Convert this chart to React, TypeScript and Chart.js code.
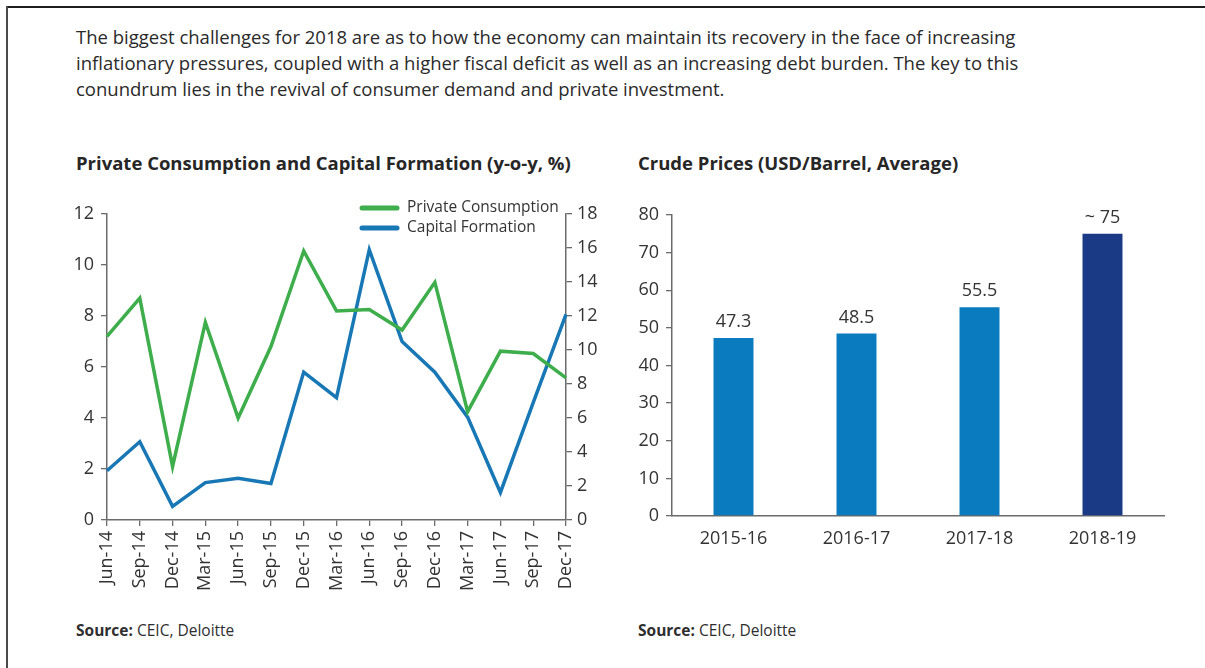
import React, { useEffect, useRef } from "react";
import { Chart, registerables } from "chart.js";

Chart.register(...registerables);

// ---------- data ----------
const quarters = [
  "Jun-14", "Sep-14", "Dec-14", "Mar-15", "Jun-15", "Sep-15", "Dec-15", "Mar-16",
  "Jun-16", "Sep-16", "Dec-16", "Mar-17", "Jun-17", "Sep-17", "Dec-17",
];
const privateConsumption = [7.2, 8.7, 2.1, 7.75, 4.0, 6.8, 10.55, 8.2, 8.25, 7.45, 9.32, 4.25, 6.62, 6.53, 5.57];
const capitalFormation = [2.9, 4.6, 0.8, 2.2, 2.45, 2.15, 8.7, 7.2, 15.9, 10.5, 8.7, 6.05, 1.62, 6.9, 12.1];

const crudeYears = ["2015-16", "2016-17", "2017-18", "2018-19"];
const crudePrices = [47.3, 48.5, 55.5, 75];
const crudeLabels = ["47.3", "48.5", "55.5", "~ 75"];

const paragraphLines = [
  "The biggest challenges for 2018 are as to how the economy can maintain its recovery in the face of increasing",
  "inflationary pressures, coupled with a higher fiscal deficit as well as an increasing debt burden. The key to this",
  "conundrum lies in the revival of consumer demand and private investment.",
];
const leftTitle = "Private Consumption and Capital Formation (y-o-y, %)";
const rightTitle = "Crude Prices (USD/Barrel, Average)";

// ---------- styles ----------
const FONT = "'Open Sans', 'DejaVu Sans', sans-serif";
const GREEN = "#3DAE4B";
const BLUE = "#1877B5";
const BAR_BLUE = "#0A7BBF";
const BAR_NAVY = "#1B3A86";
const AXIS = "#6b6b6b";
const TICK_TEXT = "#333333";

const lineLegend = {
  id: "lineLegend",
  afterDraw(chart: any) {
    const { ctx, chartArea } = chart;
    ctx.save();
    ctx.font = `15.5px ${FONT}`;
    ctx.textBaseline = "middle";
    ctx.textAlign = "left";
    chart.data.datasets.forEach((ds: any, i: number) => {
      const y = chartArea.top - 6 + i * 20;
      const x0 = chartArea.right - 204;
      ctx.strokeStyle = ds.borderColor;
      ctx.lineWidth = 5;
      ctx.lineCap = "round";
      ctx.beginPath();
      ctx.moveTo(x0, y);
      ctx.lineTo(x0 + 35, y);
      ctx.stroke();
      ctx.fillStyle = TICK_TEXT;
      ctx.fillText(ds.label, x0 + 45, y);
    });
    ctx.restore();
  },
};

const barLabels = {
  id: "barLabels",
  afterDatasetsDraw(chart: any) {
    const { ctx } = chart;
    const meta = chart.getDatasetMeta(0);
    ctx.save();
    ctx.font = `18px ${FONT}`;
    ctx.fillStyle = TICK_TEXT;
    ctx.textAlign = "center";
    ctx.textBaseline = "alphabetic";
    meta.data.forEach((bar: any, i: number) => {
      ctx.fillText(crudeLabels[i], bar.x, bar.y - 11);
    });
    ctx.restore();
  },
};

function axisStyle(extra: any) {
  return {
    grid: {
      display: true,
      drawOnChartArea: false,
      drawTicks: true,
      tickLength: 6,
      color: AXIS,
      lineWidth: 1.3,
    },
    border: { display: true, color: AXIS, width: 1.5 },
    ...extra,
  };
}

export default function App() {
  const leftRef = useRef<HTMLCanvasElement>(null);
  const rightRef = useRef<HTMLCanvasElement>(null);

  useEffect(() => {
    document.body.style.margin = "0";
    const left = new Chart(leftRef.current as HTMLCanvasElement, {
      type: "line",
      data: {
        labels: quarters,
        datasets: [
          {
            label: "Private Consumption",
            data: privateConsumption,
            borderColor: GREEN,
            backgroundColor: GREEN,
            borderWidth: 3.5,
            pointRadius: 0,
            tension: 0,
            yAxisID: "y",
          },
          {
            label: "Capital Formation",
            data: capitalFormation,
            borderColor: BLUE,
            backgroundColor: BLUE,
            borderWidth: 3.5,
            pointRadius: 0,
            tension: 0,
            yAxisID: "y1",
          },
        ],
      },
      options: {
        responsive: false,
        animation: false,
        layout: { padding: { top: 24, left: 0, right: 0, bottom: 0 } },
        plugins: { legend: { display: false }, tooltip: { enabled: false } },
        scales: {
          x: axisStyle({
            type: "category",
            offset: false,
            ticks: {
              minRotation: 90,
              maxRotation: 90,
              autoSkip: false,
              padding: 5,
              color: TICK_TEXT,
              font: { family: FONT, size: 18 },
            },
            afterFit(s: any) { s.height = 90; },
          }),
          y: axisStyle({
            position: "left",
            min: 0,
            max: 12,
            ticks: { stepSize: 2, padding: 7, color: TICK_TEXT, font: { family: FONT, size: 18 } },
            afterFit(s: any) { s.width = 67; },
          }),
          y1: axisStyle({
            position: "right",
            min: 0,
            max: 18,
            ticks: { stepSize: 2, padding: 5, color: TICK_TEXT, font: { family: FONT, size: 18 } },
            afterFit(s: any) { s.width = 44; },
          }),
        },
      },
      plugins: [lineLegend],
    });

    const right = new Chart(rightRef.current as HTMLCanvasElement, {
      type: "bar",
      data: {
        labels: crudeYears,
        datasets: [
          {
            label: "Crude Prices",
            data: crudePrices,
            backgroundColor: [BAR_BLUE, BAR_BLUE, BAR_BLUE, BAR_NAVY],
            borderWidth: 0,
            categoryPercentage: 1,
            barPercentage: 0.325,
          },
        ],
      },
      options: {
        responsive: false,
        animation: false,
        layout: { padding: { top: 25, left: 0, right: 16, bottom: 0 } },
        plugins: { legend: { display: false }, tooltip: { enabled: false } },
        scales: {
          x: {
            grid: { display: true, drawOnChartArea: false, drawTicks: false },
            border: { display: true, color: AXIS, width: 1.5 },
            ticks: { padding: 12, color: TICK_TEXT, font: { family: FONT, size: 18 } },
            afterFit(s: any) { s.height = 94; },
          },
          y: axisStyle({
            min: 0,
            max: 80,
            ticks: { stepSize: 10, padding: 7, color: TICK_TEXT, font: { family: FONT, size: 18 } },
            afterFit(s: any) { s.width = 52; },
          }),
        },
      },
      plugins: [barLabels],
    });

    return () => {
      left.destroy();
      right.destroy();
    };
  }, []);

  const titleStyle: React.CSSProperties = {
    position: "absolute",
    top: 151,
    fontSize: 18.5,
    fontWeight: 700,
    lineHeight: "24px",
    whiteSpace: "nowrap",
    color: "#262626",
  };
  const sourceStyle: React.CSSProperties = {
    position: "absolute",
    top: 620,
    fontSize: 15.5,
    lineHeight: "20px",
    whiteSpace: "nowrap",
    color: "#2e2e2e",
  };

  return (
    <div
      style={{
        position: "fixed",
        left: 0,
        top: 0,
        width: 1205,
        height: 668,
        background: "#ffffff",
        fontFamily: FONT,
        color: "#2a2a2a",
        overflow: "hidden",
      }}
    >
      <div style={{ position: "absolute", left: 6, top: 6, width: 1199, height: 2, background: "#1e1e1e" }} />
      <div style={{ position: "absolute", left: 6, top: 6, width: 2, height: 662, background: "#4a4a4a" }} />

      <div style={{ position: "absolute", left: 76, top: 24, fontSize: 18.5, lineHeight: "26px", whiteSpace: "nowrap" }}>
        {paragraphLines.map((l, i) => (
          <div key={i}>{l}</div>
        ))}
      </div>

      <div style={{ ...titleStyle, left: 76 }}>{leftTitle}</div>
      <div style={{ ...titleStyle, left: 638 }}>{rightTitle}</div>

      <canvas ref={leftRef} width={570} height={420} style={{ position: "absolute", left: 40, top: 190 }} />
      <canvas ref={rightRef} width={560} height={420} style={{ position: "absolute", left: 620, top: 190 }} />

      <div style={{ ...sourceStyle, left: 76 }}>
        <b>Source:</b> CEIC, Deloitte
      </div>
      <div style={{ ...sourceStyle, left: 638 }}>
        <b>Source:</b> CEIC, Deloitte
      </div>
    </div>
  );
}
